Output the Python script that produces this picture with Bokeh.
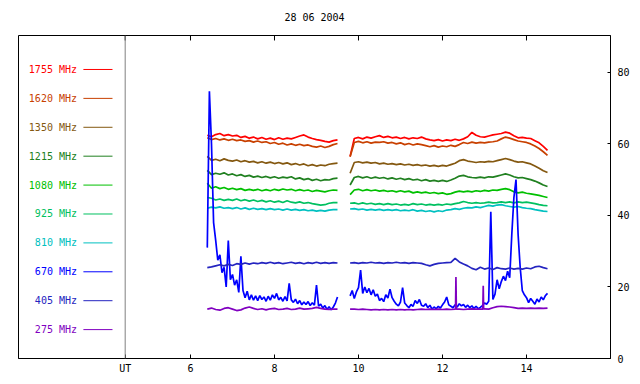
import numpy as np
from bokeh.plotting import figure
from bokeh.models import LinearAxis, FixedTicker, Span, ColumnDataSource
from bokeh.core.properties import value
from bokeh.embed import file_html
from bokeh.resources import INLINE

# ---------------- data ----------------
TITLE = "28 06 2004"
FREQ_LABELS = ["1755 MHz", "1620 MHz", "1350 MHz", "1215 MHz", "1080 MHz",
               "925 MHz", "810 MHz", "670 MHz", "405 MHz", "275 MHz"]
COLORS = ["#ff0000", "#c84000", "#845810", "#208020", "#00c000",
          "#00c060", "#00c0c0", "#0000ff", "#2424c0", "#8000c0"]
X_TICKS = [6, 8, 10, 12, 14]
Y_TICKS = [0, 20, 40, 60, 80]
UT_POS = 4.445
X_RANGE = (1.905, 16.0)
Y_RANGE = (0, 90.3)

# sampling grids (hours UT)
PRE_START, POST_START = 6.4, 9.8
STEP_SLOW, STEP_FAST = 0.1, 0.05

S1755_PRE = [62.4, 62.0, 62.6, 62.9, 62.3,
             62.6, 62.2, 62.4, 61.8, 62.1, 61.6, 61.9, 61.4, 61.8, 61.3,
             61.6, 61.2, 61.7, 61.3, 61.6, 61.4, 61.8, 62.2, 62.5, 61.9,
             61.5, 61.2, 61.0, 60.7, 60.5, 60.9, 61.1]
S1755_POST = [56.5,
              61.5, 61.8, 61.4, 61.9, 61.6, 62.0, 62.3, 61.8, 62.1, 61.7,
              61.9, 61.5, 61.8, 61.4, 61.7, 61.5, 61.9, 61.4, 61.1, 60.9,
              61.2, 60.8, 61.1, 60.9, 61.3, 61.0, 61.4, 62.0, 63.2, 62.4,
              62.0, 61.9, 62.2, 62.5, 62.7, 62.9, 63.3, 63.0, 62.3, 61.7,
              61.8, 61.6, 61.5, 60.9, 60.3, 59.3, 58.2]

S1620_PRE = [61.7, 61.2, 61.5, 61.1, 61.4,
             61.0, 61.3, 60.9, 61.1, 60.7, 60.9, 60.5, 60.8, 60.4, 60.6,
             60.1, 60.4, 59.9, 60.2, 59.7, 60.0, 59.6, 59.9, 59.5, 59.7,
             59.3, 59.1, 59.4, 59.0, 59.3, 59.8, 60.1]
S1620_POST = [56.4,
              60.4, 60.7, 60.3, 60.6, 60.2, 60.5, 60.4, 60.6, 60.2, 60.4,
              60.0, 60.3, 59.8, 60.1, 59.7, 60.0, 59.8, 59.5, 59.2, 59.5,
              59.1, 59.4, 59.2, 59.6, 59.3, 59.8, 60.4, 60.1, 60.5, 60.2,
              60.4, 60.3, 60.5, 60.6, 60.8, 61.4, 61.9, 61.6, 61.2, 60.8,
              60.6, 60.4, 60.0, 59.4, 58.7, 57.8, 56.8]

S1350_PRE = [56.5, 55.4, 55.7, 55.3, 55.8,
             55.4, 55.2, 55.5, 55.0, 55.3, 54.9, 55.1, 54.7, 55.0, 54.6,
             54.9, 54.5, 54.8, 54.4, 54.7, 54.2, 54.5, 54.1, 54.4, 53.9,
             54.2, 53.8, 54.1, 53.9, 54.3, 54.5, 54.6]
S1350_POST = [51.8,
              54.8, 55.0, 54.7, 54.9, 54.6, 54.8, 54.4, 54.6, 54.3, 54.5,
              54.2, 54.4, 54.1, 54.3, 54.0, 54.2, 53.9, 54.1, 53.8, 54.0,
              53.7, 54.0, 53.8, 54.2, 54.6, 55.3, 55.6, 55.2, 55.0, 54.8,
              55.0, 54.9, 55.1, 55.0, 55.3, 55.6, 55.9, 55.6, 55.2, 54.9,
              55.0, 54.7, 54.4, 53.8, 53.2, 52.5, 52.0]

S1215_PRE = [52.6, 51.4, 51.8, 51.5, 51.9,
             51.3, 51.6, 51.1, 51.4, 50.9, 51.2, 50.7, 51.0, 50.6, 50.9,
             50.5, 50.8, 50.4, 50.7, 50.5, 50.8, 50.2, 50.5, 50.0, 50.3,
             49.8, 50.1, 49.7, 50.0, 49.9, 50.3, 50.4]
S1215_POST = [48.5,
              50.6, 50.9, 50.5, 50.8, 50.4, 50.7, 50.4, 50.6, 50.2, 50.5,
              50.1, 50.4, 50.0, 50.3, 49.9, 50.1, 49.7, 50.0, 49.6, 49.8,
              49.5, 49.8, 49.5, 49.9, 50.4, 51.0, 51.2, 50.8, 50.6, 50.5,
              50.7, 50.5, 50.8, 50.7, 51.0, 51.3, 51.6, 51.3, 50.8, 50.5,
              50.6, 50.3, 50.0, 49.6, 49.1, 48.5, 48.1]

S1080_PRE = [49.0, 47.6, 48.0, 47.5, 47.8,
             47.3, 47.6, 47.2, 47.5, 47.0, 47.3, 47.0, 47.3, 46.9, 47.2,
             46.9, 47.3, 47.0, 47.4, 47.1, 47.3, 46.9, 47.2, 46.9, 47.1,
             46.7, 47.0, 46.8, 46.6, 46.9, 47.1, 47.0]
S1080_POST = [45.8,
              47.1, 47.3, 46.9, 47.2, 46.9, 47.1, 46.8, 47.0, 46.7, 46.9,
              46.6, 46.9, 46.6, 46.8, 46.3, 46.6, 46.3, 46.5, 46.2, 46.4,
              46.1, 46.3, 45.9, 46.1, 46.5, 46.8, 46.6, 46.8, 46.6, 46.9,
              46.7, 47.0, 46.8, 47.1, 47.0, 47.3, 47.5, 47.2, 46.6, 46.3,
              46.5, 46.2, 46.0, 45.8, 45.6, 45.3, 45.0]

S925_PRE = [45.0, 44.8, 44.3, 44.6, 44.2,
            44.5, 44.2, 44.6, 44.1, 44.4, 44.0, 44.3, 43.9, 44.2, 43.8,
            44.1, 43.7, 44.0, 43.6, 44.1, 43.7, 43.5, 43.8, 43.4, 43.6,
            43.3, 43.1, 42.9, 43.0, 43.4, 43.6, 43.6]
S925_POST = [43.4,
             43.5, 43.2, 43.5, 43.2, 43.4, 43.1, 43.3, 43.0, 43.3, 43.0,
             43.2, 42.9, 43.1, 42.9, 43.3, 43.0, 43.2, 42.9, 43.1, 42.9,
             43.1, 42.9, 43.2, 43.0, 43.3, 43.5, 43.9, 43.6, 43.4, 43.6,
             43.4, 43.5, 43.7, 43.5, 43.6, 43.8, 43.6, 43.8, 43.5, 43.8,
             43.6, 43.7, 43.5, 43.3, 43.0, 42.8, 42.7]

S810_PRE = [42.0, 42.3, 42.1, 42.4, 42.0,
            42.2, 41.9, 42.2, 41.8, 42.1, 41.7, 42.0, 41.7, 41.9, 41.6,
            41.9, 41.6, 41.8, 41.5, 41.8, 41.5, 41.7, 41.4, 41.6, 41.3,
            41.5, 41.2, 41.4, 41.2, 41.5, 41.6, 41.6]
S810_POST = [41.8,
             41.9, 41.6, 41.8, 41.5, 41.7, 41.5, 41.7, 41.4, 41.6, 41.4,
             41.6, 41.3, 41.5, 41.3, 41.6, 41.2, 41.4, 41.1, 41.3, 41.0,
             41.3, 41.1, 41.5, 41.6, 41.9, 41.7, 42.0, 42.2, 42.1, 42.4,
             42.2, 42.5, 42.8, 42.6, 42.9, 43.0, 42.7, 42.5, 42.3, 42.5,
             42.2, 42.0, 41.9, 41.6, 41.4, 41.2, 41.1]

S670_PRE = [31.0, 74.7, 60.0, 38.0, 33.0, 27.5, 29.0, 24.0, 25.5, 20.0,
            33.0, 22.0, 23.5, 20.5, 22.0, 18.5, 28.6, 19.0, 17.0, 18.8,
            16.4, 17.8, 16.3, 17.5, 16.2, 17.6, 16.5, 17.2, 16.0, 17.4,
            16.3, 17.8, 16.8, 18.2, 16.4, 17.1, 16.0, 17.3, 16.1, 21.0,
            16.4, 15.7, 16.6, 15.3, 16.2, 15.0, 15.8, 15.1, 15.9, 14.8,
            15.6, 14.9, 20.5, 14.6, 15.2, 14.1, 14.8, 13.7, 14.5, 13.6,
            14.4, 15.5, 17.2]
S670_POST = [17.5, 19.0, 16.8, 18.6, 19.8, 24.7, 18.2, 20.0, 18.4, 19.6,
             17.8, 19.2, 17.4, 18.0, 16.2, 16.8, 15.9, 17.8, 16.9, 19.4,
             17.0, 16.0, 15.2, 14.7, 15.8, 19.8, 15.5, 14.8, 14.2, 15.1,
             14.6, 16.2, 15.4, 16.5, 14.9, 14.6, 15.3, 14.2, 14.9, 13.8,
             14.4, 13.9, 14.6, 14.1, 15.0, 15.8, 17.2, 15.0, 14.6, 14.2,
             15.0, 14.4, 15.3, 14.7, 15.1, 14.3, 14.9, 14.2, 14.7, 14.0,
             14.6, 13.9, 14.3, 14.8, 15.5, 15.2, 16.0, 41.0, 16.5, 18.0,
             22.0, 19.5, 21.5, 23.0, 21.8, 24.4, 22.6, 34.7, 45.0, 50.0,
             34.7, 25.4, 19.0, 17.8, 17.0, 15.6, 16.8, 16.0, 15.2, 16.6,
             15.8, 17.2, 16.4, 17.6, 18.2]

S405_PRE = [25.4, 25.6, 25.9, 26.2, 25.9,
            26.3, 26.0, 26.5, 26.3, 26.7, 26.4, 26.7, 26.5, 26.8, 26.6,
            26.9, 26.6, 26.8, 26.5, 26.7, 26.9, 26.6, 26.8, 26.5, 26.8,
            26.6, 26.9, 26.6, 26.8, 26.6, 26.8, 26.7]
S405_POST = [26.7,
             26.8, 26.6, 26.8, 26.7, 26.9, 26.7, 26.8, 26.6, 26.8, 26.7,
             26.9, 26.7, 26.8, 26.6, 26.8, 26.7, 26.6, 26.2, 25.9, 26.3,
             26.6, 26.7, 26.8, 26.9, 28.0, 27.0, 26.4, 25.9, 25.2, 24.8,
             25.5, 25.0, 25.3, 24.9, 25.4, 25.1, 25.0, 25.3, 25.0, 25.2,
             25.0, 25.3, 25.1, 25.6, 25.8, 25.4, 25.1]

S275_PRE = [13.8, 14.1, 13.7, 13.5, 14.0,
            14.2, 13.8, 13.4, 13.6, 14.1, 14.4, 14.0, 13.7, 13.9, 13.6,
            13.9, 14.0, 13.7, 13.8, 14.0, 13.7, 13.8, 14.1, 13.8, 13.9,
            14.0, 14.3, 14.0, 13.8, 13.7, 13.8, 13.8]
S275_POST = [13.8,
             13.8, 13.7, 13.8, 13.7, 13.6, 13.7, 13.6, 13.7, 13.6, 13.7,
             13.6, 13.7, 13.6, 13.7, 13.6, 13.7, 13.8, 13.7, 13.8, 13.7,
             13.8, 13.7, 13.8, 13.7, 13.8, 13.8, 13.7, 13.8, 13.9, 13.8,
             13.8, 13.9, 13.8, 14.2, 14.5, 14.6, 14.5, 14.4, 14.2, 14.0,
             14.1, 14.0, 14.1, 14.0, 14.1, 14.0, 14.1]
SPIKE275_T = [12.31, 12.32, 12.33, 12.96, 12.97, 12.98]
SPIKE275_V = [13.8, 22.8, 13.8, 13.8, 20.3, 13.8]

SERIES = [
    (S1755_PRE, S1755_POST, STEP_SLOW),
    (S1620_PRE, S1620_POST, STEP_SLOW),
    (S1350_PRE, S1350_POST, STEP_SLOW),
    (S1215_PRE, S1215_POST, STEP_SLOW),
    (S1080_PRE, S1080_POST, STEP_SLOW),
    (S925_PRE, S925_POST, STEP_SLOW),
    (S810_PRE, S810_POST, STEP_SLOW),
    (S670_PRE, S670_POST, STEP_FAST),
    (S405_PRE, S405_POST, STEP_SLOW),
    (S275_PRE, S275_POST, STEP_SLOW),
]

FONT = "DejaVu Sans Mono"

# ---------------- figure ----------------
p = figure(width=632, height=376, x_range=X_RANGE, y_range=Y_RANGE,
           output_backend="svg", toolbar_location=None,
           x_axis_location=None, y_axis_location=None,
           min_border_left=18, min_border_right=22,
           min_border_top=35, min_border_bottom=17)
p.grid.visible = False
p.outline_line_color = "black"
p.outline_line_width = 1
p.background_fill_color = "white"
p.border_fill_color = "white"

p.title.text = TITLE
p.title.align = "center"
p.title.vertical_align = "top"
p.title.text_font = FONT
p.title.text_font_size = "10px"
p.title.text_font_style = "normal"
p.title.text_color = "black"
p.title.standoff = 21

x_ticks_all = [UT_POS] + X_TICKS

def style_axis(ax, tick_in):
    ax.major_tick_in = tick_in
    ax.major_tick_out = 0
    ax.minor_tick_line_color = None
    ax.axis_line_color = "black"
    ax.major_tick_line_color = "black"
    ax.major_label_text_font = FONT
    ax.major_label_text_font_size = "10px"
    ax.major_label_text_color = "black"

xb = LinearAxis(ticker=FixedTicker(ticks=x_ticks_all))
style_axis(xb, 4)
xb.major_label_standoff = 4
xb.major_label_overrides = {UT_POS: "UT"}
p.add_layout(xb, "below")

yr = LinearAxis(ticker=FixedTicker(ticks=Y_TICKS))
style_axis(yr, 3)
yr.major_label_standoff = 7
p.add_layout(yr, "right")

# top-edge tick marks (pointing inward, no labels)
top_tick_len = 5 / 3.59
p.segment(x0=x_ticks_all, x1=x_ticks_all,
          y0=[Y_RANGE[1]] * len(x_ticks_all),
          y1=[Y_RANGE[1] - top_tick_len] * len(x_ticks_all),
          line_color="black", line_width=1)

p.add_layout(Span(location=UT_POS, dimension="height",
                  line_color="#808080", line_width=1))

# series
for (pre, post, step), color, label in zip(SERIES, COLORS, FREQ_LABELS):
    t_pre = PRE_START + step * np.arange(len(pre))
    t_post = POST_START + step * np.arange(len(post))
    v_post = np.array(post, dtype=float)
    if label == "275 MHz":
        t_post = np.concatenate([t_post, SPIKE275_T])
        v_post = np.concatenate([v_post, SPIKE275_V])
        order = np.argsort(t_post, kind="stable")
        t_post, v_post = t_post[order], v_post[order]
    xs = np.concatenate([t_pre, [np.nan], t_post])
    ys = np.concatenate([np.array(pre, dtype=float), [np.nan], v_post])
    p.line(xs, ys, line_color=color, line_width=1.7)

# legend column (left panel)
n = len(FREQ_LABELS)
leg_y = [8.08 * (n - i) for i in range(n)]
leg_src = ColumnDataSource(dict(y=leg_y, text=FREQ_LABELS, color=COLORS,
                                xt=[3.298] * n, x0=[3.45] * n, x1=[4.143] * n))
p.text(x="xt", y="y", text="text", source=leg_src, text_color="color",
       text_align="right", text_baseline="middle",
       text_font=value(FONT), text_font_size="10px")
p.segment(x0="x0", y0="y", x1="x1", y1="y", source=leg_src,
          line_color="color", line_width=1)

open("out.html", "w").write(file_html(p, INLINE))
